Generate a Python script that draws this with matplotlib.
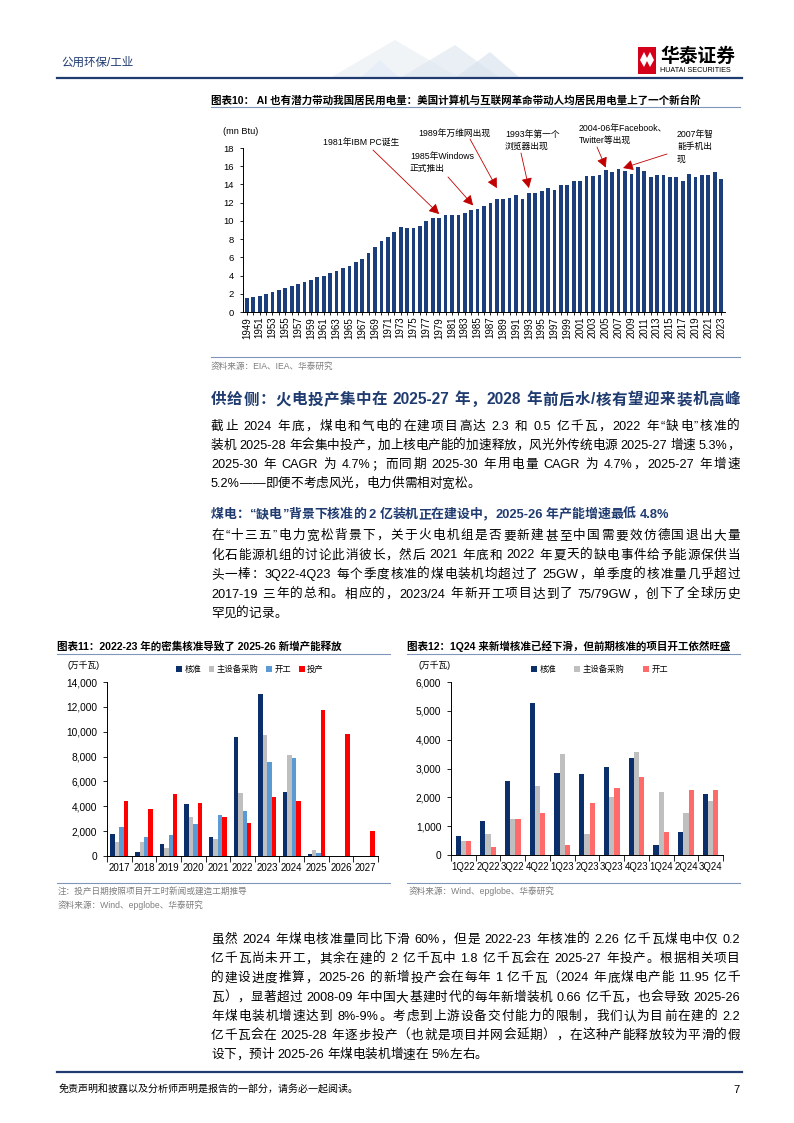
import matplotlib
matplotlib.use('Agg')
import matplotlib.pyplot as plt
from matplotlib.lines import Line2D
from matplotlib.patches import Rectangle, Polygon
import numpy as np

plt.rcParams['font.family'] = ['Liberation Sans', 'Noto Sans CJK SC']
plt.rcParams['axes.unicode_minus'] = False

W, H = 794, 1123
NAVY = '#1f3b70'
RULE = '#7f95b9'
GREY_TXT = '#7f7f7f'

# ---------------- data: chart 10 (mn Btu per capita, US residential)
years = list(range(1949, 2024))
btu = [1.5, 1.6, 1.8, 2.0, 2.2, 2.4, 2.6, 2.9, 3.1, 3.3,          # 1949-58
       3.5, 3.8, 3.95, 4.25, 4.5, 4.85, 5.1, 5.45, 5.8, 6.45,     # 1959-68
       7.15, 7.75, 8.2, 8.75, 9.3, 9.2, 9.25, 9.45, 10.0, 10.35,  # 1969-78
       10.35, 10.7, 10.7, 10.7, 10.9, 11.25, 11.3, 11.6, 11.95, 12.4,   # 1979-88
       12.45, 12.55, 12.85, 12.4, 13.05, 13.05, 13.3, 13.65, 13.4, 13.95,  # 1989-98
       13.95, 14.35, 14.35, 14.95, 14.95, 15.0, 15.6, 15.4, 15.7, 15.45,   # 1999-2008
       15.15, 15.9, 15.5, 14.85, 15.0, 15.0, 14.85, 14.8, 14.35, 15.2,     # 2009-18
       14.85, 15.05, 15.05, 15.35, 14.6]                                  # 2019-23

# annotation: lines, text left px, text top-line y px, arrow start px, year, dx, lift
events = [
    (['1981年IBM PC诞生'], 323, 143, (373, 150), 1979, 0.0, 0.4),
    (['1985年Windows', '正式推出'], 410, 156, (448, 177), 1984, 0.3, 0.45),
    (['1989年万维网出现'], 418, 134, (470, 139), 1988, 0.0, 1.2),
    (['1993年第一个', '浏览器出现'], 505, 134, (521, 153), 1993, 0.0, 0.55),
    (['2004-06年Facebook、', 'Twitter等出现'], 579, 128, (597, 147), 2005, 0.0, 0.25),
    (['2007年智', '能手机出', '现'], 677, 134, (667, 154), 2007, 0.7, 0.1),
]

# ---------------- data: chart 11 (万千瓦)
yr11 = ['2017', '2018', '2019', '2020', '2021', '2022', '2023', '2024', '2025', '2026', '2027']
approve = [1750, 300, 940, 4150, 1560, 9610, 13030, 5170, 130, 0, 0]
equip = [1130, 1100, 620, 3150, 1400, 5090, 9750, 8130, 460, 0, 0]
start = [2340, 1500, 1670, 2610, 3260, 3610, 7570, 7920, 220, 0, 0]
online = [4420, 3770, 4950, 4280, 3150, 2640, 4740, 4390, 11770, 9850, 2020]
names11 = ['核准', '主设备采购', '开工', '投产']

# ---------------- data: chart 12 (万千瓦)
quarters = ['1Q22', '2Q22', '3Q22', '4Q22', '1Q23', '2Q23', '3Q23', '4Q23', '1Q24', '2Q24', '3Q24']
q_approve = [670, 1170, 2560, 5270, 2840, 2800, 3060, 3380, 340, 800, 2130]
q_equip = [500, 730, 1260, 2400, 3500, 730, 2020, 3570, 2180, 1460, 1870]
q_start = [490, 280, 1260, 1460, 350, 1820, 2330, 2710, 800, 2270, 2250]
names12 = ['核准', '主设备采购', '开工']

# ---------------- text
h1 = '供给侧：火电投产集中在 2025-27 年，2028 年前后水/核有望迎来装机高峰'
p1 = ['截止 2024 年底，煤电和气电的在建项目高达 2.3 和 0.5 亿千瓦，2022 年“缺电”核准的',
      '装机 2025-28 年会集中投产，加上核电产能的加速释放，风光外传统电源 2025-27 增速 5.3%，',
      '2025-30 年 CAGR 为 4.7%；而同期 2025-30 年用电量 CAGR 为 4.7%，2025-27 年增速',
      '5.2%——即便不考虑风光，电力供需相对宽松。']
h2 = '煤电：“缺电”背景下核准的 2 亿装机正在建设中，2025-26 年产能增速最低 4.8%'
p2 = ['在“十三五”电力宽松背景下，关于火电机组是否要新建甚至中国需要效仿德国退出大量',
      '化石能源机组的讨论此消彼长，然后 2021 年底和 2022 年夏天的缺电事件给予能源保供当',
      '头一棒：3Q22-4Q23 每个季度核准的煤电装机均超过了 25GW，单季度的核准量几乎超过',
      '2017-19 三年的总和。相应的，2023/24 年新开工项目达到了 75/79GW，创下了全球历史',
      '罕见的记录。']
p3 = ['虽然 2024 年煤电核准量同比下滑 60%，但是 2022-23 年核准的 2.26 亿千瓦煤电中仅 0.2',
      '亿千瓦尚未开工，其余在建的 2 亿千瓦中 1.8 亿千瓦会在 2025-27 年投产。根据相关项目',
      '的建设进度推算，2025-26 的新增投产会在每年 1 亿千瓦（2024 年底煤电产能 11.95 亿千',
      '瓦），显著超过 2008-09 年中国大基建时代的每年新增装机 0.66 亿千瓦，也会导致 2025-26',
      '年煤电装机增速达到 8%-9%。考虑到上游设备交付能力的限制，我们认为目前在建的 2.2',
      '亿千瓦会在 2025-28 年逐步投产（也就是项目并网会延期），在这种产能释放较为平滑的假',
      '设下，预计 2025-26 年煤电装机增速在 5%左右。']

fig = plt.figure(figsize=(W / 100, H / 100), dpi=100)
renderer = fig.canvas.get_renderer()


def fx(px):
    return px / W


def fy(py):
    return 1 - py / H


def rule(x0, x1, y, color=RULE, lw=0.8):
    fig.add_artist(Line2D([fx(x0), fx(x1)], [fy(y), fy(y)], color=color, lw=lw,
                          transform=fig.transFigure))


def split_tokens(s):
    toks, buf = [], ''
    for ch in s:
        if ch.isascii() and ch != ' ':
            buf += ch
        else:
            if buf:
                toks.append(buf)
                buf = ''
            toks.append(ch)
    if buf:
        toks.append(buf)
    return toks


def put_line(s, y, size, x0=211, x1=740, justify=True, **kw):
    '''Writes one line of text, spreading the characters to fill x0..x1.'''
    toks = split_tokens(s)
    arts, widths = [], []
    for t in toks:
        if t == ' ':
            arts.append(None)
            widths.append(size * 100 / 72 * 0.25)
            continue
        a = fig.text(0, fy(y), t, fontsize=size, va='center', ha='left', **kw)
        arts.append(a)
        widths.append(a.get_window_extent(renderer).width)
    gap = 0
    if justify and len(toks) > 1:
        gap = (x1 - x0 - sum(widths)) / (len(toks) - 1)
    x = x0
    for a, w in zip(arts, widths):
        if a is not None:
            a.set_x(fx(x))
        x += w + gap


def paragraph(lines, y0, step, size=9.1):
    for i, s in enumerate(lines):
        put_line(s, y0 + i * step, size, justify=(i < len(lines) - 1))


# ---------------- page header
fig.text(fx(61), fy(63), '公用环保/工业', fontsize=8.3, color=NAVY, va='center')
for pts, c in [([(330, 78), (395, 40), (460, 78)], '#e8edf3'),
               ([(400, 78), (455, 45), (500, 78)], '#dde5ef'),
               ([(455, 78), (490, 52), (520, 78)], '#d6e0ed'),
               ([(360, 78), (380, 60), (400, 78)], '#e1ebf7')]:
    fig.add_artist(Polygon([(fx(a), fy(b)) for a, b in pts], closed=True, color=c,
                           alpha=0.6, transform=fig.transFigure, lw=0))
fig.add_artist(Rectangle((fx(638), fy(74)), 18 / W, 27 / H, color='#d7001b',
                         transform=fig.transFigure, lw=0))
fig.add_artist(Polygon([(fx(a), fy(b)) for a, b in
                        [(640, 60), (644, 52), (647, 58), (650, 52), (654, 60),
                         (650, 67), (647, 61), (644, 67)]],
                       closed=True, color='white', transform=fig.transFigure, lw=0))
fig.text(fx(660), fy(57), '华泰证券', fontsize=13.5, fontweight='bold', va='center')
fig.text(fx(660), fy(71), 'HUATAI SECURITIES', fontsize=5.2, va='center')
rule(57, 742, 78, NAVY, 1.6)

# ---------------- chart 10
fig.text(fx(211), fy(100), '图表10： AI 也有潜力带动我国居民用电量：美国计算机与互联网革命带动人均居民用电量上了一个新台阶',
         fontsize=7.6, fontweight='bold', va='center')
rule(211, 740, 107)
fig.text(fx(223), fy(132), '(mn Btu)', fontsize=6.6, va='center')

ax10 = fig.add_axes([fx(243), fy(312), (725 - 243) / W, (312 - 148) / H])
ax10.bar(years, btu, width=0.58, color='#1c3f7c')
ax10.set_xlim(1948.4, 2023.6)
ax10.set_ylim(0, 18)
ax10.set_yticks(range(0, 19, 2))
ax10.set_xticks(years)
ax10.set_xticklabels([str(y) if (y - 1949) % 2 == 0 else '' for y in years],
                     rotation=90, fontsize=7)
ax10.tick_params(axis='x', length=2.5, width=0.6, pad=1)
ax10.tick_params(axis='y', length=2.5, width=0.6, labelsize=6.8, pad=4)
for s in ['top', 'right']:
    ax10.spines[s].set_visible(False)
for s in ['left', 'bottom']:
    ax10.spines[s].set_linewidth(0.7)

for lines, tx, ty, (sx, sy), yr, dx, lift in events:
    for i, s in enumerate(lines):
        fig.text(fx(tx), fy(ty + i * 12.5), s, fontsize=6.3, va='center')
    v = btu[years.index(yr)]
    ax10.annotate('', xy=(yr + dx, v + lift), xycoords='data',
                  xytext=(sx, H - sy), textcoords='figure pixels',
                  arrowprops=dict(arrowstyle='-|>,head_length=0.6,head_width=0.32',
                                  color='#c00000', lw=0.6, shrinkA=0, shrinkB=0),
                  annotation_clip=False)

rule(211, 740, 357)
fig.text(fx(211), fy(366), '资料来源：EIA、IEA、华泰研究', fontsize=6.2, color=GREY_TXT, va='center')

# ---------------- text block 1
put_line(h1, 400, 11.2, fontweight='bold', color=NAVY)
paragraph(p1, 427, 19)
put_line(h2, 515, 9.3, justify=False, fontweight='bold', color=NAVY)
paragraph(p2, 536, 19.5)


# ---------------- charts 11 and 12
def grouped(ax, cats, series, colors, labels, width, ymax, step):
    x = np.arange(len(cats))
    n = len(series)
    for i, (vals, c, lab) in enumerate(zip(series, colors, labels)):
        ax.bar(x + (i - (n - 1) / 2) * width, vals, width=width, color=c, label=lab)
    ax.set_xlim(-0.5, len(cats) - 0.5)
    ax.set_ylim(0, ymax)
    ticks = list(range(0, ymax + 1, step))
    ax.set_yticks(ticks)
    ax.set_yticklabels([f'{t:,}' for t in ticks])
    ax.set_xticks(x)
    ax.set_xticklabels(cats)
    ax.set_xticks(np.arange(-0.5, len(cats), 1), minor=True)
    ax.tick_params(axis='x', which='major', length=0, pad=5)
    ax.tick_params(axis='x', which='minor', length=4, width=0.6)
    ax.tick_params(axis='y', length=3, width=0.6, pad=4, labelsize=7.3)
    for s in ['top', 'right']:
        ax.spines[s].set_visible(False)
    for s in ['left', 'bottom']:
        ax.spines[s].set_linewidth(0.7)


fig.text(fx(57), fy(646), '图表11：2022-23 年的密集核准导致了 2025-26 新增产能释放',
         fontsize=7.6, fontweight='bold', va='center')
rule(57, 390, 654)
fig.text(fx(68), fy(665), '(万千瓦)', fontsize=6.3, va='center')
ax11 = fig.add_axes([fx(107), fy(856), (378 - 107) / W, (856 - 682) / H])
grouped(ax11, yr11, [approve, equip, start, online],
        ['#0b2f6b', '#bfbfbf', '#5b9bd5', '#ff0000'], names11, 0.18, 14000, 2000)
ax11.tick_params(axis='x', labelsize=7)
ax11.legend(ncol=4, loc='center left', bbox_to_anchor=(fx(176), fy(670)),
            bbox_transform=fig.transFigure, frameon=False, fontsize=6,
            handlelength=0.7, handleheight=0.7, handletextpad=0.3,
            columnspacing=0.9, borderaxespad=0, borderpad=0)

fig.text(fx(407), fy(646), '图表12：1Q24 来新增核准已经下滑，但前期核准的项目开工依然旺盛',
         fontsize=7.6, fontweight='bold', va='center')
rule(407, 740, 654)
fig.text(fx(418), fy(665), '(万千瓦)', fontsize=6.3, va='center')
ax12 = fig.add_axes([fx(451), fy(855), (723 - 451) / W, (855 - 682) / H])
grouped(ax12, quarters, [q_approve, q_equip, q_start],
        ['#0b2f6b', '#bfbfbf', '#ff6b6b'], names12, 0.21, 6000, 1000)
ax12.tick_params(axis='x', labelsize=6.9)
ax12.legend(ncol=3, loc='center left', bbox_to_anchor=(fx(531), fy(670)),
            bbox_transform=fig.transFigure, frameon=False, fontsize=6,
            handlelength=0.7, handleheight=0.7, handletextpad=0.3,
            columnspacing=2.2, borderaxespad=0, borderpad=0)

rule(57, 390, 883)
rule(407, 740, 883)
fig.text(fx(58), fy(891), '注：投产日期按照项目开工时新闻或建造工期推导', fontsize=6.2, color=GREY_TXT, va='center')
fig.text(fx(58), fy(905), '资料来源：Wind、epglobe、华泰研究', fontsize=6.2, color=GREY_TXT, va='center')
fig.text(fx(409), fy(891), '资料来源：Wind、epglobe、华泰研究', fontsize=6.2, color=GREY_TXT, va='center')

# ---------------- text block 2
paragraph(p3, 940, 19.2)

# ---------------- footer
rule(57, 742, 1072, NAVY, 1.6)
fig.text(fx(59), fy(1090), '免责声明和披露以及分析师声明是报告的一部分，请务必一起阅读。',
         fontsize=7.2, style='italic', va='center')
fig.text(fx(740), fy(1090), '7', fontsize=8, ha='right', va='center')

fig.savefig('out.png', dpi=100)
